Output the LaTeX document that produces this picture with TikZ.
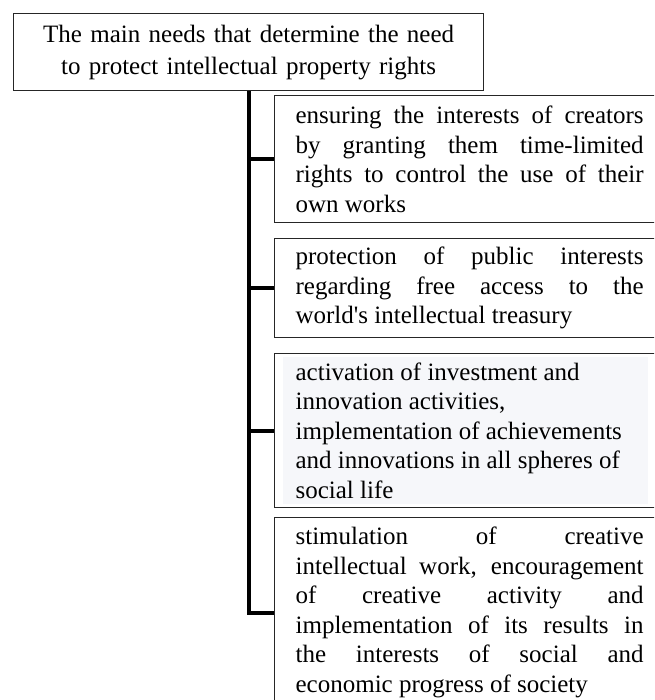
\documentclass[tikz,border=0pt]{standalone}
\usepackage{fontspec}
\setmainfont{Liberation Serif}
\usetikzlibrary{positioning,backgrounds}
\definecolor{hlgray}{RGB}{246,247,250}
\tikzset{%
  every need/.style={
    draw=black!85,
    line width=1.2pt,
    anchor=north west,
    inner xsep=21pt,
    inner ysep=6pt,
    text width=348pt,
    align=justify,
    font=\fontsize{25}{29.5}\selectfont,
    execute at begin node={\tolerance=10000 \hyphenpenalty=10000 \exhyphenpenalty=10000 }
  },
  need title/.style={
    draw=black!85,
    line width=1.2pt,
    anchor=north west,
    inner xsep=11pt,
    text width=448pt,
    minimum height=77pt,
    align=center,
    font=\fontsize{25}{32}\selectfont
  },
  trunk/.style={
    line width=4pt,
    line join=miter
  },
}

\begin{document}
\begin{tikzpicture}[x=1pt, y=-1pt]
        \useasboundingbox (0,0) rectangle (654,700);
        \clip (0,0) rectangle (654,700);

        % title
        \node [need title] (needs) at (13,13)
        {The main needs that determine the need\\to protect intellectual property rights};

        % needs
        \node [every need, minimum height=127pt] (need-1) at (274,95)
        {ensuring the interests of creators\linebreak by granting them time-limited\linebreak rights to control the use of their\linebreak own works};

        \node [every need, minimum height=99pt] (need-2) at (274,238)
        {protection of public interests\linebreak regarding free access to the\linebreak world\textquotesingle s intellectual treasury};

        \node [every need, minimum height=154pt] (need-3) at (274,353)
        {activation of investment and\newline innovation activities,\newline implementation of achievements\newline and innovations in all spheres of\newline social life};

        \node [every need, minimum height=190pt] (need-4) at (274,517)
        {stimulation of creative\linebreak intellectual work, encouragement\linebreak of creative activity and\linebreak implementation of its results in\linebreak the interests of social and\linebreak economic progress of society};

        % highlight behind the third text
        \begin{scope}[on background layer]
        \fill [hlgray] ([xshift=9pt, yshift=-4pt]need-3.north west) rectangle ([xshift=-17pt, yshift=4pt]need-3.south east);
        \end{scope}

        % links
        \draw [trunk] (needs.south) |- (need-4.west);
        \foreach \i in {1,...,3}
        \draw [trunk] (needs.south |- need-\i.west) -- (need-\i.west);

    \end{tikzpicture}
\end{document}
